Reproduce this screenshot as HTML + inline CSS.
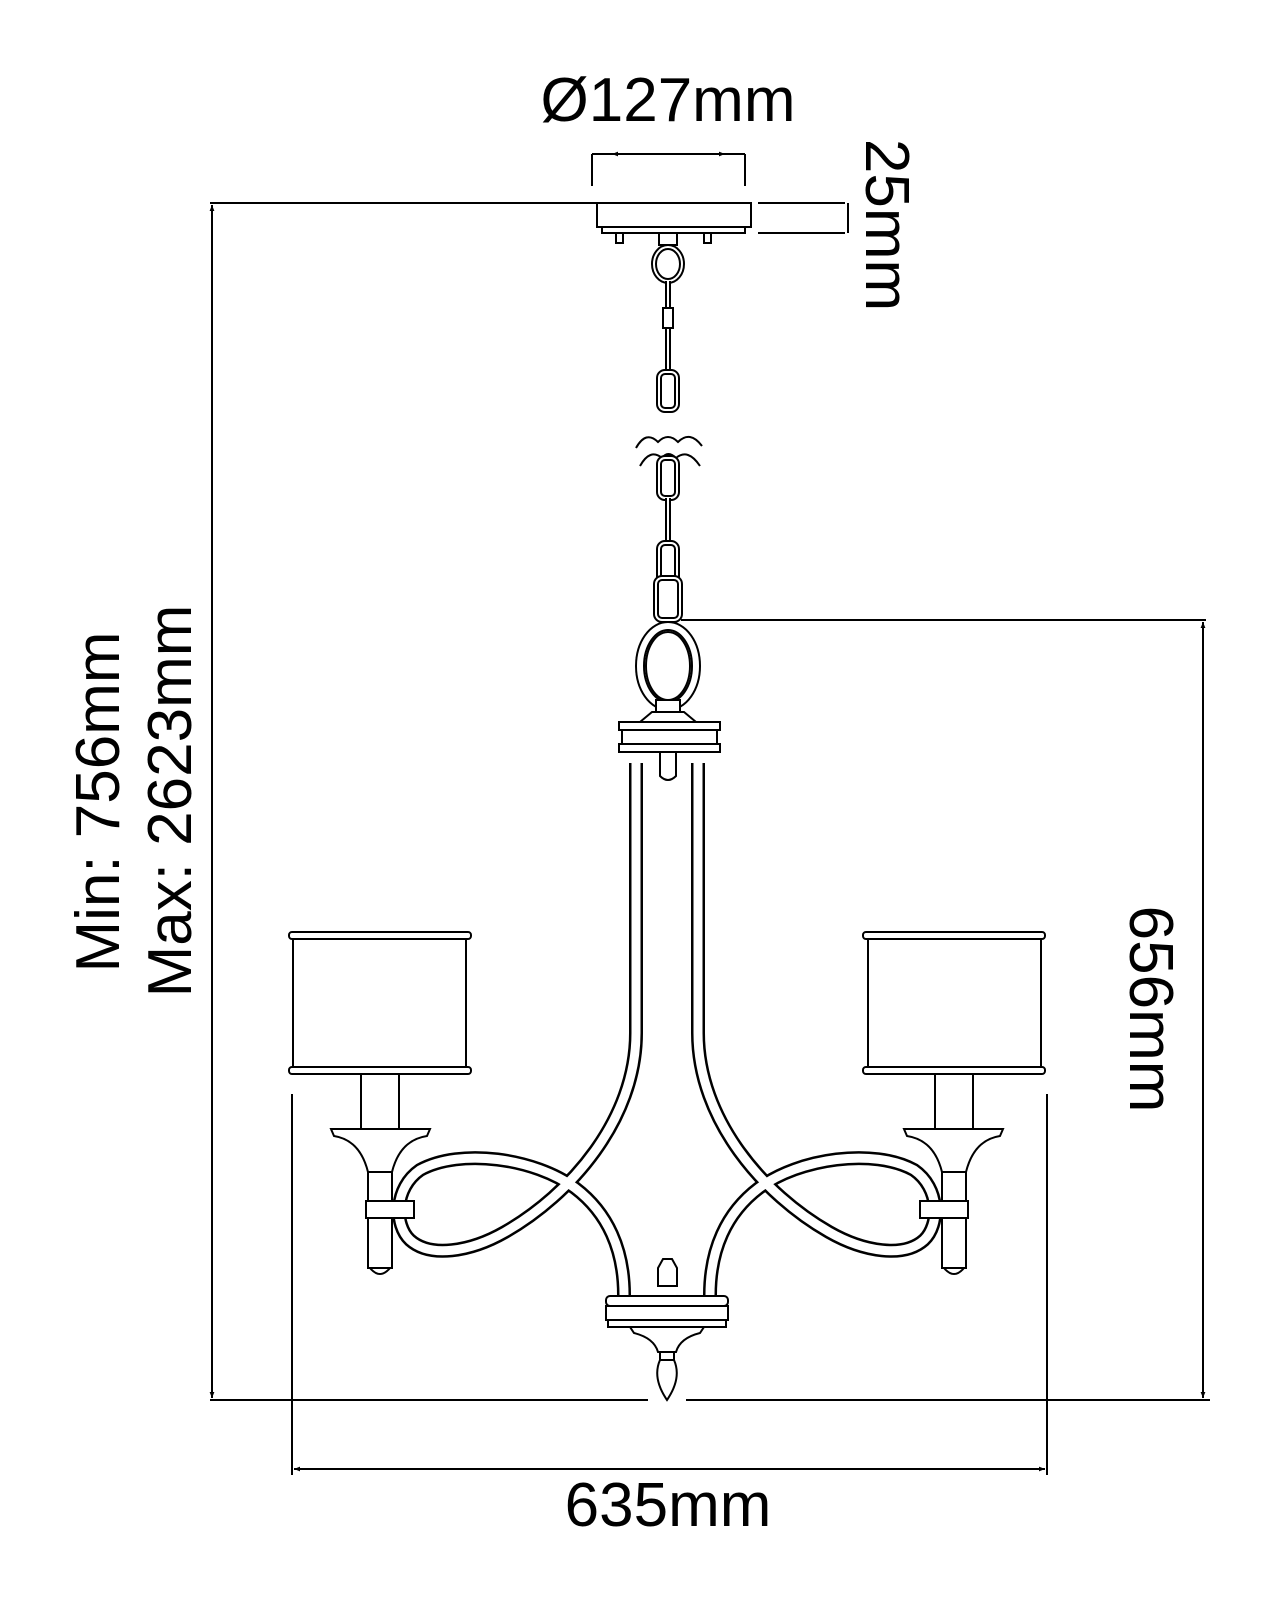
<!DOCTYPE html>
<html><head><meta charset="utf-8"><style>
html,body{margin:0;padding:0;background:#fff;}
svg{display:block;}
text{font-family:"Liberation Sans",Arial,sans-serif;fill:#000;}
</style></head><body>
<svg width="1280" height="1600" viewBox="0 0 1280 1600" xmlns="http://www.w3.org/2000/svg">
<defs>
<marker id="ar" viewBox="0 0 10 10" refX="10" refY="5" markerWidth="6" markerHeight="6" orient="auto-start-reverse" markerUnits="userSpaceOnUse"><path d="M0,1 L10,5 L0,9 z" fill="#000"/></marker>
<g id="half" fill="none" stroke="#000" stroke-width="2">
  <rect x="289" y="932" width="182" height="7" rx="3" fill="#fff"/>
  <rect x="293" y="939" width="173" height="128" fill="#fff"/>
  <rect x="289" y="1067" width="182" height="7" rx="3" fill="#fff"/>
  <rect x="361" y="1074" width="38" height="56" fill="#fff"/>
  <path d="M331,1129 L430,1129 L427,1136 Q400,1140 392,1172 L368,1172 Q360,1140 334,1136 Z" fill="#fff"/>
  <path d="M636,763 L636,1033 C636,1120 570,1195 505,1232 C470,1252 430,1258 410,1240 C394,1225 394,1188 420,1170 C460,1148 535,1158 575,1188 C608,1213 624,1250 624,1295" stroke="#000" stroke-width="14"/>
  <path d="M636,763 L636,1033 C636,1120 570,1195 505,1232 C470,1252 430,1258 410,1240 C394,1225 394,1188 420,1170 C460,1148 535,1158 575,1188 C608,1213 624,1250 624,1295" stroke="#fff" stroke-width="9"/>
  <rect x="368" y="1172" width="24" height="96" fill="#fff"/>
  <path d="M370,1268 Q380,1280 390,1268" />
  <rect x="366" y="1201" width="48" height="17" fill="#fff"/>
</g>
</defs>

<g stroke="#000" stroke-width="2" fill="none">
  <line x1="210" y1="203" x2="597" y2="203"/>
  <line x1="212" y1="205" x2="212" y2="1398" marker-start="url(#ar)" marker-end="url(#ar)"/>
  <line x1="210" y1="1400" x2="648" y2="1400"/>
  <line x1="686" y1="1400" x2="1210" y2="1400"/>
  <line x1="681" y1="620" x2="1206" y2="620"/>
  <line x1="1203" y1="622" x2="1203" y2="1398" marker-start="url(#ar)" marker-end="url(#ar)"/>
  <line x1="758" y1="203" x2="845" y2="203"/>
  <line x1="758" y1="233" x2="845" y2="233"/>
  <line x1="848" y1="203" x2="848" y2="233"/>
  <line x1="592" y1="154" x2="592" y2="186"/>
  <line x1="745" y1="154" x2="745" y2="186"/>
  <line x1="640" y1="154" x2="612" y2="154" marker-end="url(#ar)"/>
  <line x1="697" y1="154" x2="725" y2="154" marker-end="url(#ar)"/>
  <line x1="592" y1="154" x2="745" y2="154"/>
  <line x1="292" y1="1094" x2="292" y2="1475"/>
  <line x1="1047" y1="1094" x2="1047" y2="1475"/>
  <line x1="294" y1="1469" x2="1045" y2="1469" marker-start="url(#ar)" marker-end="url(#ar)"/>
</g>

<g stroke="#000" stroke-width="2" fill="#fff">
  <rect x="597" y="203" width="154" height="24"/>
  <rect x="602" y="227" width="143" height="6"/>
  <rect x="616" y="233" width="7" height="10"/>
  <rect x="704" y="233" width="7" height="10"/>
  <rect x="659" y="233" width="18" height="12"/>
  <ellipse cx="668" cy="264" rx="14" ry="17" stroke-width="6"/>
  <ellipse cx="668" cy="264" rx="14" ry="17" stroke="#fff" stroke-width="2" fill="none"/>
  <line x1="668" y1="281" x2="668" y2="372" stroke-width="6"/>
  <line x1="668" y1="281" x2="668" y2="372" stroke="#fff" stroke-width="2"/>
  <rect x="663" y="308" width="10" height="20" stroke-width="2"/>
  <rect x="659" y="372" width="18" height="38" rx="6" stroke-width="6"/>
  <rect x="659" y="372" width="18" height="38" rx="6" stroke="#fff" stroke-width="2" fill="none"/>
  <path d="M636,448 Q646,430 658,442 Q668,432 678,442 Q690,430 702,446 M640,466 Q650,448 662,458 Q668,450 676,458 Q688,448 700,466" fill="none" stroke-width="2"/>
  <rect x="659" y="458" width="18" height="40" rx="6" stroke-width="6"/>
  <rect x="659" y="458" width="18" height="40" rx="6" stroke="#fff" stroke-width="2" fill="none"/>
  <line x1="668" y1="498" x2="668" y2="545" stroke-width="6"/>
  <line x1="668" y1="498" x2="668" y2="545" stroke="#fff" stroke-width="2"/>
  <rect x="659" y="543" width="18" height="40" rx="6" stroke-width="6"/>
  <rect x="659" y="543" width="18" height="40" rx="6" stroke="#fff" stroke-width="2" fill="none"/>
  <rect x="656" y="578" width="24" height="42" rx="6" stroke-width="6"/>
  <rect x="656" y="578" width="24" height="42" rx="6" stroke="#fff" stroke-width="2" fill="none"/>
  <ellipse cx="668" cy="666" rx="28" ry="40" stroke-width="10"/>
  <ellipse cx="668" cy="666" rx="28" ry="40" stroke="#fff" stroke-width="6" fill="none"/>
  <ellipse cx="668" cy="666" rx="22" ry="34" stroke-width="2" fill="#fff"/>
  <rect x="656" y="700" width="24" height="12"/>
  <path d="M640,722 L652,712 L684,712 L696,722 Z"/>
</g>

<use href="#half"/>
<use href="#half" transform="translate(1334,0) scale(-1,1)"/>

<g stroke="#000" stroke-width="2" fill="#fff">
  <rect x="619" y="722" width="101" height="8"/>
  <rect x="622" y="730" width="95" height="14"/>
  <rect x="619" y="744" width="101" height="8"/>
  <path d="M660,752 L676,752 L676,776 Q668,784 660,776 Z"/>
  <path d="M658,1286 L658,1268 L663,1259 L672,1259 L677,1268 L677,1286 Z"/>
  <rect x="606" y="1296" width="122" height="10" rx="4"/>
  <rect x="606" y="1306" width="122" height="14"/>
  <rect x="608" y="1320" width="118" height="7"/>
  <path d="M630,1327 L704,1327 L700,1333 Q680,1338 676,1352 L658,1352 Q654,1338 634,1333 Z"/>
  <rect x="660" y="1352" width="14" height="8"/>
  <path d="M660,1360 L674,1360 Q682,1378 667,1400 Q652,1378 660,1360 Z"/>
</g>

<text x="668" y="121" font-size="62" text-anchor="middle">Ø127mm</text>
<text x="668" y="1526" font-size="62" text-anchor="middle">635mm</text>
<text transform="translate(866,225) rotate(90)" font-size="62" text-anchor="middle">25mm</text>
<text transform="translate(1130,1009) rotate(90)" font-size="62" text-anchor="middle">656mm</text>
<text transform="translate(119,802) rotate(-90)" font-size="62" text-anchor="middle">Min: 756mm</text>
<text transform="translate(191,801) rotate(-90)" font-size="62" text-anchor="middle">Max: 2623mm</text>
</svg>
</body></html>
